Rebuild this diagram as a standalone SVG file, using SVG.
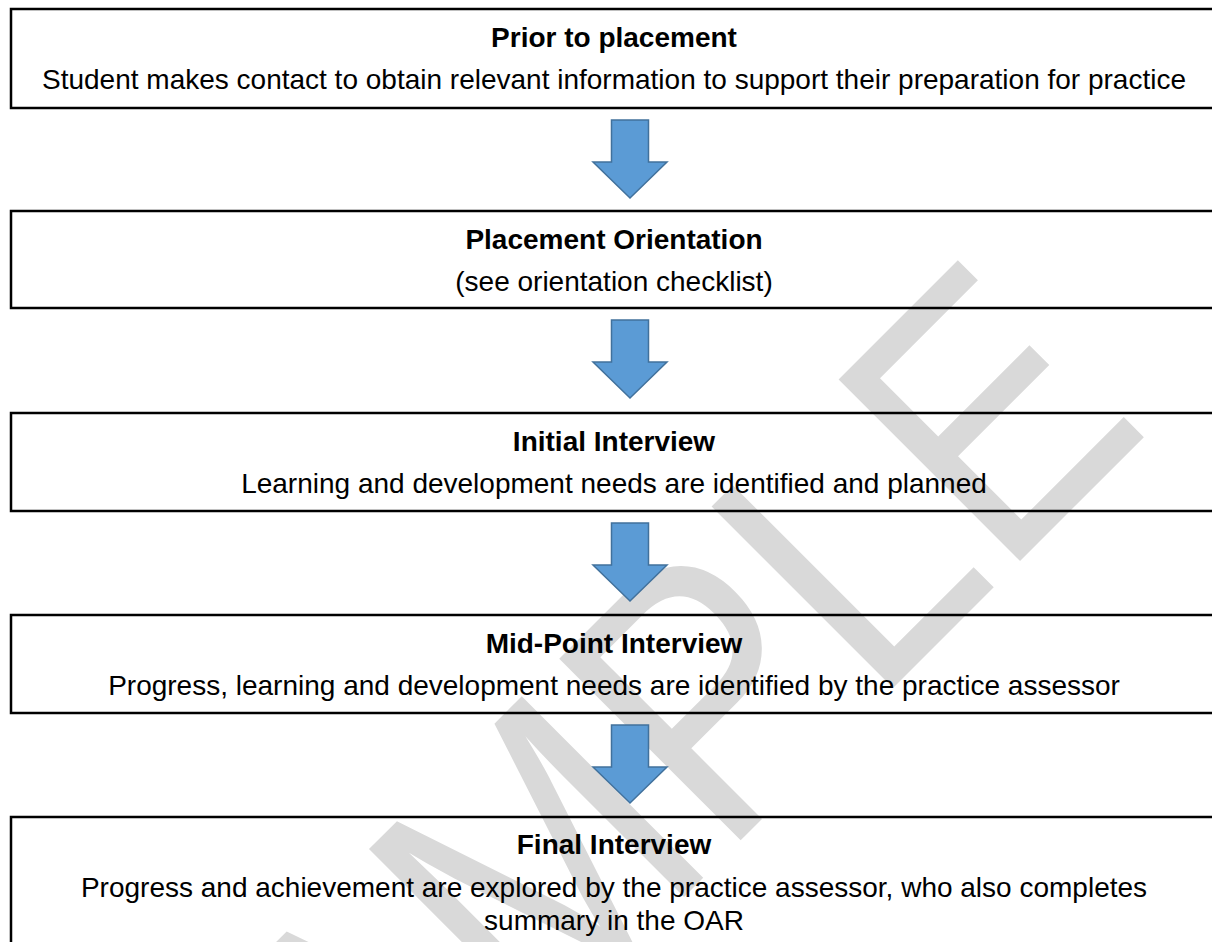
<svg xmlns="http://www.w3.org/2000/svg" width="1212" height="942" viewBox="0 0 1212 942">
  <style>
    .box { fill: none; stroke: #000; stroke-width: 2.5; }
    .title { font-family: "Liberation Sans", Arial, sans-serif; font-size: 28px; font-weight: bold; fill: #000; text-anchor: middle; }
    .body { font-family: "Liberation Sans", Arial, sans-serif; font-size: 28px; fill: #000; text-anchor: middle; }
    .arrow { fill: #5B9BD5; stroke: #41719C; stroke-width: 1.5; stroke-linejoin: miter; }
    .wm { font-family: "Liberation Sans", Arial, sans-serif; font-size: 373px; fill: #d9d9d9; }
  </style>
  <defs>
    <path id="downArrow" class="arrow" d="M -18.5,0 L 18.5,0 L 18.5,42 L 37,42 L 0,78 L -37,42 L -18.5,42 Z"/>
  </defs>
  <rect x="0" y="0" width="1212" height="942" fill="#fff"/>
  <g id="watermark">
    <text class="wm" transform="translate(227,1354) rotate(-45) scale(0.866,1)">SAMPLE</text>
  </g>
  <g id="connectors">
    <use href="#downArrow" x="630" y="120"/>
    <use href="#downArrow" x="630" y="320"/>
    <use href="#downArrow" x="630" y="523"/>
    <use href="#downArrow" x="630" y="725"/>
  </g>
  <g id="node-prior">
    <rect class="box" x="11" y="9" width="1230" height="99"/>
    <text class="title" x="614" y="47">Prior to placement</text>
    <text class="body" x="614" y="89">Student makes contact to obtain relevant information to support their preparation for practice</text>
  </g>
  <g id="node-orientation">
    <rect class="box" x="11" y="211" width="1230" height="97"/>
    <text class="title" x="614" y="249">Placement Orientation</text>
    <text class="body" x="614" y="291">(see orientation checklist)</text>
  </g>
  <g id="node-initial">
    <rect class="box" x="11" y="413" width="1230" height="98"/>
    <text class="title" x="614" y="451">Initial Interview</text>
    <text class="body" x="614" y="493">Learning and development needs are identified and planned</text>
  </g>
  <g id="node-midpoint">
    <rect class="box" x="11" y="615" width="1230" height="98"/>
    <text class="title" x="614" y="653">Mid-Point Interview</text>
    <text class="body" x="614" y="695">Progress, learning and development needs are identified by the practice assessor</text>
  </g>
  <g id="node-final">
    <rect class="box" x="11" y="817" width="1230" height="200"/>
    <text class="title" x="614" y="854">Final Interview</text>
    <text class="body" x="614" y="897">Progress and achievement are explored by the practice assessor, who also completes</text>
    <text class="body" x="614" y="930">summary in the OAR</text>
  </g>
</svg>
